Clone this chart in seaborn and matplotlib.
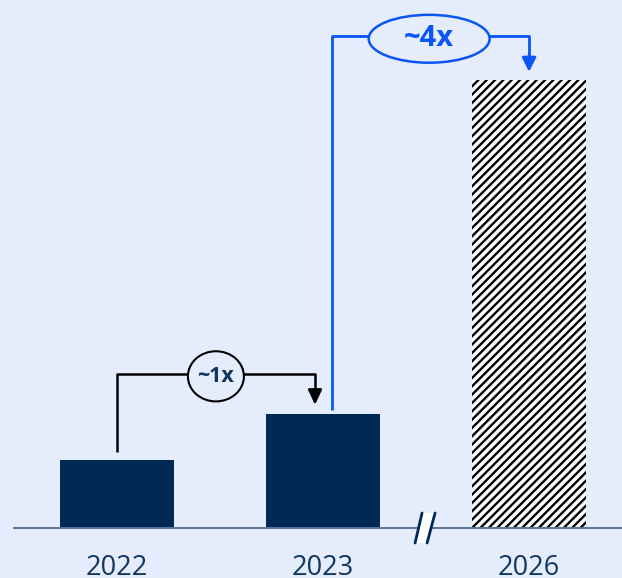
import matplotlib
matplotlib.use("Agg")
import matplotlib.pyplot as plt
import seaborn as sns
import pandas as pd
from matplotlib.patches import Ellipse, Polygon

# ---- data ----
years = ["2022", "2023", "2026"]
values = [0.60, 1.00, 3.93]
growth_labels = ["~1x", "~4x"]

BG = "#E5ECFC"
NAVY = "#002A55"
BLUE = "#0A55F5"
AXIS = "#5C7595"

sns.set_theme(style="white")
plt.rcParams["font.family"] = ["Open Sans", "DejaVu Sans"]
plt.rcParams["hatch.linewidth"] = 1.7

fig = plt.figure(figsize=(6.22, 5.78), dpi=100)
fig.patch.set_facecolor(BG)
ax = fig.add_axes([14 / 622, 50 / 578, 608 / 622, 528 / 578])
ax.set_facecolor(BG)

df = pd.DataFrame({"year": years, "value": values})
sns.barplot(data=df, x="year", y="value", color=NAVY, width=0.553,
            saturation=1, ax=ax)
bars = ax.patches
for b in bars:
    b.set_linewidth(0)
bars[2].set_facecolor("white")
bars[2].set_edgecolor("black")
bars[2].set_hatch("////")
bars[2].set_linewidth(0)

ax.set_xlim(-0.5, 2.451)
ax.set_ylim(0, 4.63)
ax.set_xlabel("")
ax.set_ylabel("")
ax.set_yticks([])
for s in ["top", "right", "left"]:
    ax.spines[s].set_visible(False)
ax.spines["bottom"].set_color(AXIS)
ax.spines["bottom"].set_linewidth(1.4)
ax.tick_params(axis="x", which="major", length=0, pad=19, labelsize=19.5,
               labelcolor="#123660")
ax.set_xticks([-0.5, 0.5], minor=True)
ax.tick_params(axis="x", which="minor", length=7, width=1.2, color=AXIS,
               direction="out")

# ---- growth annotation 1 (black) ----
x0, x1 = 0, 0.961
yh = 1.35
ax.plot([x0, x0, x1, x1], [values[0] + 0.07, yh, yh, values[1] + 0.20],
        color="black", lw=1.8, solid_capstyle="butt", zorder=3)
ax.annotate("", xy=(x1, values[1] + 0.08), xytext=(x1, values[1] + 0.22),
            arrowprops=dict(arrowstyle="-|>,head_width=0.35,head_length=0.75",
                            color="black", lw=1.8, shrinkA=0, shrinkB=0),
            zorder=4)
ax.add_patch(Ellipse((0.48, 1.33), 0.272, 0.44, facecolor=BG,
                     edgecolor="black", lw=1.5, zorder=5))
ax.text(0.48, 1.33, growth_labels[0], ha="center", va="center",
        fontsize=15.5, fontweight="bold", color="#123660", zorder=6)

# ---- growth annotation 2 (blue) ----
x2, x3 = 1.044, 2.0
yh2 = 4.316
ax.plot([x2, x2, x3, x3], [values[1] + 0.035, yh2, yh2, values[2] + 0.20],
        color=BLUE, lw=2.0, solid_capstyle="butt", zorder=3)
ax.annotate("", xy=(x3, values[2] + 0.07), xytext=(x3, values[2] + 0.22),
            arrowprops=dict(arrowstyle="-|>,head_width=0.35,head_length=0.7",
                            color=BLUE, lw=2.0, shrinkA=0, shrinkB=0),
            zorder=4)
ax.add_patch(Ellipse((1.515, 4.29), 0.587, 0.42, facecolor=BG,
                     edgecolor=BLUE, lw=1.8, zorder=5))
ax.text(1.515, 4.29, growth_labels[1], ha="center", va="center",
        fontsize=21, fontweight="bold", color=BLUE, zorder=6)

# ---- axis break mark ----
brk = [(1.4466, -0.1316), (1.4806, 0.1316), (1.5437, 0.1316), (1.5049, -0.1316)]
ax.add_patch(Polygon(brk, closed=True, facecolor="white", edgecolor="none",
                     clip_on=False, zorder=6))
ax.plot([brk[0][0], brk[1][0]], [brk[0][1], brk[1][1]], color=NAVY, lw=2,
        clip_on=False, zorder=7)
ax.plot([brk[3][0], brk[2][0]], [brk[3][1], brk[2][1]], color=NAVY, lw=2,
        clip_on=False, zorder=7)

fig.savefig("out.png", dpi=100, facecolor=BG)
